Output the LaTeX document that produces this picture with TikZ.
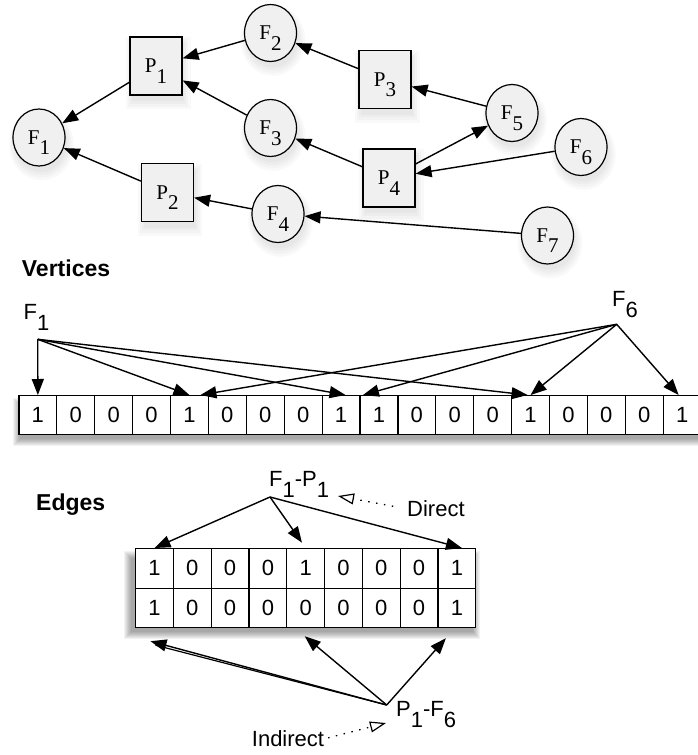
\documentclass[tikz,border=0pt]{standalone}
\usepackage{fontspec}
\setmainfont{Liberation Sans}
\newfontfamily\serifface{Liberation Serif}
\usetikzlibrary{shapes.geometric,shadows,arrows.meta,calc}
\newcommand\lsub[1]{\raisebox{-0.5em}{#1}}
\newcommand\softbox[4]{\foreach \k in {0,...,7}{\fill[black,opacity=0.05] ({#1-\k},{#2-\k}) rectangle ({#3+\k},{#4+\k});}}
\begin{document}
\begin{tikzpicture}[x=1pt,y=-1pt,
  softsh/.style={
    drop shadow={opacity=0.05,shadow xshift=2pt,shadow yshift=-6pt,shadow scale=1.00},
    drop shadow={opacity=0.05,shadow xshift=2pt,shadow yshift=-6pt,shadow scale=1.08},
    drop shadow={opacity=0.05,shadow xshift=2pt,shadow yshift=-6pt,shadow scale=1.16},
    drop shadow={opacity=0.05,shadow xshift=2pt,shadow yshift=-6pt,shadow scale=1.24}},
  gnode/.style={draw, line width=1.2pt, fill=gray!12, inner sep=0pt, text depth=0pt,
    softsh, font=\serifface\fontsize{21}{21}\selectfont},
  fnode/.style={gnode, ellipse, minimum width=52pt, minimum height=57pt},
  pnode/.style={gnode, rectangle, minimum width=52pt, minimum height=58pt},
  arr/.style={line width=1.4pt, -{Triangle[length=16pt,width=12pt]}},
  cell/.style={draw, line width=1.2pt, fill=white, minimum width=37.9pt,
    minimum height=39pt, inner sep=0pt, anchor=north west, font=\fontsize{22}{22}\selectfont},
  ecell/.style={cell, minimum width=37.8pt, minimum height=39.5pt},
  lab/.style={anchor=base west, inner sep=0pt, font=\fontsize{22}{22}\selectfont},
  head/.style={anchor=base west, inner sep=0pt, font=\bfseries\fontsize{23}{23}\selectfont},
  note/.style={line width=1.3pt, dash pattern=on 1.5pt off 6.5pt,
    -{Triangle[open,length=16pt,width=11pt,line width=1.2pt,sep=0pt]}},
]
\useasboundingbox (0,0) rectangle (697,755);

% ---------- graph ----------
\node[fnode] (F1) at (39,137.5) {F\lsub{1}};
\node[pnode] (P1) at (156,66) {P\lsub{1}};
\node[fnode] (F2) at (270.5,33) {F\lsub{2}};
\node[fnode] (F3) at (270.5,128) {F\lsub{3}};
\node[pnode] (P2) at (167.5,192.5) {P\lsub{2}};
\node[fnode] (F4) at (278,214) {F\lsub{4}};
\node[pnode] (P3) at (385,79.5) {P\lsub{3}};
\node[fnode] (F5) at (512,113) {F\lsub{5}};
\node[pnode] (P4) at (389,178) {P\lsub{4}};
\node[fnode] (F6) at (581,147) {F\lsub{6}};
\node[fnode] (F7) at (547.5,235.5) {F\lsub{7}};

\draw[arr] (P1) -- (F1);
\draw[arr] (F2) -- (P1);
\draw[arr] (F3) -- (P1);
\draw[arr] (P2) -- (F1);
\draw[arr] (F4) -- (P2);
\draw[arr] (P3) -- (F2);
\draw[arr] (P4) -- (F3);
\draw[arr] (F5) -- (P3);
\draw[arr] (P4) -- (F5);
\draw[arr] (F6) -- (P4);
\draw[arr] (F7) -- (F4);

% ---------- vertices ----------
\node[head] (vhead) at (21.7,276.7) {Vertices};
\softbox{20}{405}{702}{439}
\foreach \b [count=\i from 0] in {1,0,0,0,1,0,0,0,1,1,0,0,0,1,0,0,0,1}
  \node[cell] (v\i) at ({18.3+\i*37.9},395) {\b};

\node[lab] (vf1) at (23.5,319.5) {F\lsub{1}};
\node[lab] (vf6) at (612,306) {F\lsub{6}};
\coordinate (f1o) at (37.7,339.3);
\coordinate (f6o) at (616.7,324.3);

\draw[arr] (f1o) -- (v0.north);
\draw[arr] (f1o) -- (v4.north);
\draw[arr] (f1o) -- ($(v8.north)+(4.5,0)$);
\draw[arr] (f1o) -- ($(v13.north)+(-3,0)$);
\draw[arr] (f6o) -- ($(v4.north)+(11,0)$);
\draw[arr] (f6o) -- ($(v9.north)+(-16,0)$);
\draw[arr] (f6o) -- (v13.north);
\draw[arr] (f6o) -- ($(v17.north)+(-3.5,0)$);

% ---------- edges ----------
\node[head] (ehead) at (36,510) {Edges};
\softbox{131}{558}{473}{632}
\foreach \b [count=\i from 0] in {1,0,0,0,1,0,0,0,1}
  \node[ecell] (e\i) at ({135+\i*37.8},548) {\b};
\foreach \b [count=\i from 0] in {1,0,0,0,0,0,0,0,1}
  \node[ecell] (r\i) at ({135+\i*37.8},587.5) {\b};

\node[lab] (fp) at (269,486) {F\lsub{1}-P\lsub{1}};
\node[lab] (pf) at (396,716) {P\lsub{1}-F\lsub{6}};
\coordinate (fpo) at (270,497);
\coordinate (pfo) at (386.7,705);

\draw[arr] (fpo) -- (e0.north);
\draw[arr, shorten >=6.5pt] (fpo) -- (e4.north);
\draw[arr] (fpo) -- ($(e8.north)+(5,0)$);

\draw[arr] (pfo) -- ($(r0.south)+(-4,13)$);
\draw[line width=1.2pt] (pfo) -- ($(r0.south)+(1,17)$);
\draw[arr] (pfo) -- ($(r4.south)+(-1,8)$);
\draw[arr] (pfo) -- ($(r8.south)+(-11,10)$);

\node[lab] (direct) at (407,516.7) {Direct};
\coordinate (dtip) at (338,496);
\draw[note, shorten <=14pt] (direct.west) -- (dtip);

\node[lab] (indirect) at (251.7,746.7) {Indirect};
\coordinate (itip) at (386,723);
\draw[note, shorten <=4pt] (indirect.east) -- (itip);
\end{tikzpicture}
\end{document}
